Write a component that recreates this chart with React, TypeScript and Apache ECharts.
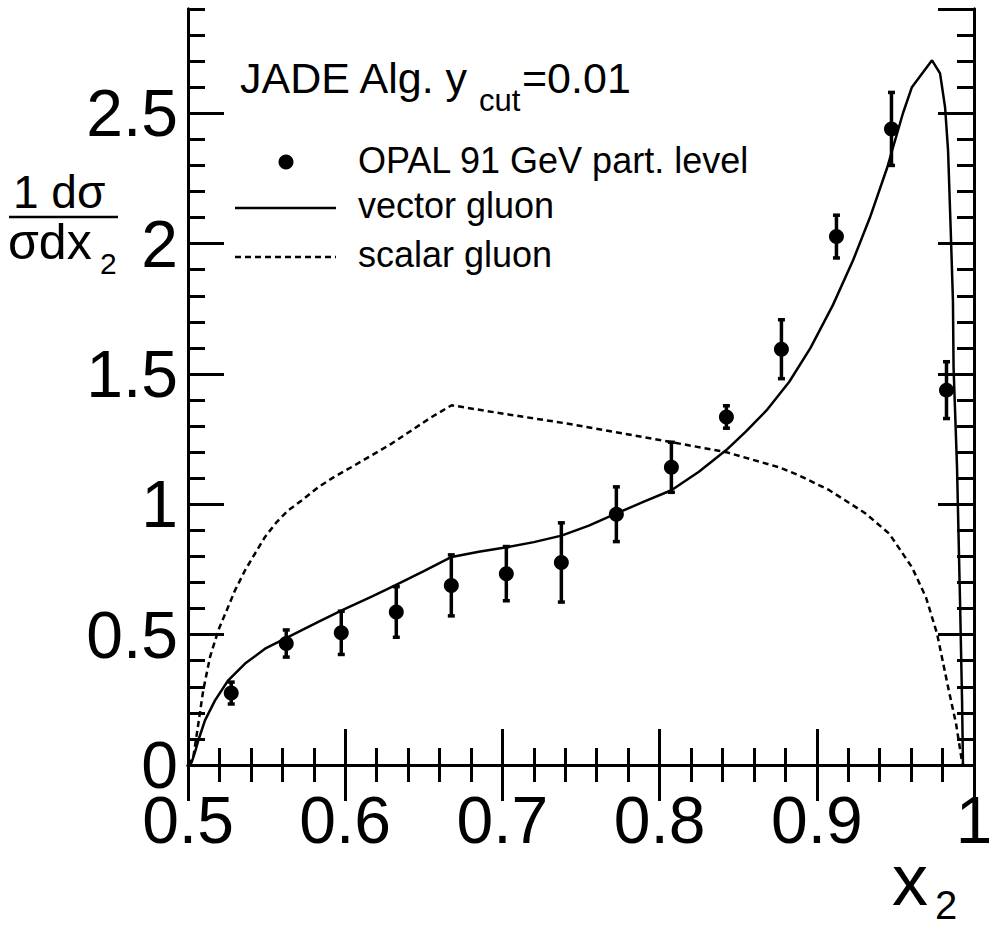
import React, { useEffect, useRef } from "react";
import * as echarts from "echarts";

// ---- data ----
const binCenters = [0.5275, 0.5625, 0.5975, 0.6325, 0.6675, 0.7025, 0.7375, 0.7725, 0.8075, 0.8425, 0.8775, 0.9125, 0.9475, 0.9825];
const opalValues = [0.276, 0.466, 0.507, 0.587, 0.689, 0.734, 0.777, 0.962, 1.142, 1.335, 1.595, 2.027, 2.44, 1.438];
const opalErrors = [0.042, 0.052, 0.083, 0.097, 0.117, 0.104, 0.152, 0.105, 0.096, 0.043, 0.113, 0.082, 0.14, 0.109];

const vectorX = [0.5, 0.5023, 0.5045, 0.5066, 0.5108, 0.5172, 0.5256, 0.5363, 0.549, 0.5617, 0.5829, 0.5978, 0.6175, 0.6317, 0.65, 0.6677, 0.685, 0.7027, 0.72, 0.7376, 0.755, 0.7726, 0.79, 0.8075, 0.825, 0.8424, 0.855, 0.868, 0.8825, 0.896, 0.9103, 0.923, 0.9338, 0.9447, 0.9548, 0.9605, 0.9676, 0.9733, 0.9784, 0.9816, 0.9835, 0.9854, 0.9866, 0.987, 0.9892, 0.9911, 0.9924, 0.993];
const vectorY = [0, 0.01, 0.05, 0.095, 0.171, 0.248, 0.325, 0.389, 0.446, 0.485, 0.549, 0.593, 0.648, 0.689, 0.744, 0.798, 0.818, 0.835, 0.855, 0.88, 0.918, 0.965, 1.01, 1.054, 1.125, 1.208, 1.28, 1.36, 1.47, 1.6, 1.765, 1.935, 2.1, 2.29, 2.5, 2.6, 2.657, 2.703, 2.653, 2.523, 2.358, 2.012, 1.782, 1.525, 1.142, 0.632, 0.248, 0];

const scalarX = [0.5, 0.5034, 0.5066, 0.5097, 0.514, 0.5193, 0.5246, 0.5299, 0.5363, 0.5426, 0.549, 0.5564, 0.5638, 0.5723, 0.5829, 0.5935, 0.6041, 0.6169, 0.6296, 0.6423, 0.655, 0.6677, 0.698, 0.741, 0.783, 0.808, 0.8424, 0.876, 0.889, 0.908, 0.931, 0.946, 0.9606, 0.9695, 0.9765, 0.984, 0.9886, 0.992, 0.993];
const scalarY = [0, 0.031, 0.159, 0.287, 0.414, 0.517, 0.593, 0.67, 0.747, 0.811, 0.875, 0.932, 0.977, 1.015, 1.066, 1.107, 1.143, 1.188, 1.233, 1.284, 1.335, 1.38, 1.35, 1.31, 1.265, 1.238, 1.2, 1.142, 1.11, 1.054, 0.965, 0.888, 0.758, 0.642, 0.504, 0.285, 0.158, 0.027, 0];

const X_MIN = 0.5;
const X_MAX = 1.0;
const Y_MIN = 0;
const Y_MAX = 2.9;

const FONT = "'Liberation Sans', Arial, Helvetica, sans-serif";

export default function App() {
  const ref = useRef<HTMLDivElement>(null);

  useEffect(() => {
    if (!ref.current) return;
    const chart = echarts.init(ref.current, null, { renderer: "svg" });

    const axisLine = { show: true, lineStyle: { color: "#000", width: 3 } };
    const majorTick = { show: true, inside: true, length: 36, lineStyle: { color: "#000", width: 3 } };
    const minorTickAxis = { show: true, inside: true, length: 17, lineStyle: { color: "#000", width: 3 } };

    const xAxisBase = {
      type: "value",
      min: X_MIN,
      max: X_MAX,
      interval: 0.1,
      splitLine: { show: false },
      axisLine,
      axisTick: majorTick,
      minorTick: { show: true, splitNumber: 5, length: 17, lineStyle: { color: "#000", width: 3 } },
      minorSplitLine: { show: false },
    };

    const yMajor = {
      type: "value",
      min: Y_MIN,
      max: Y_MAX,
      interval: 0.5,
      splitLine: { show: false },
      axisLine,
      axisTick: majorTick,
    };
    const yMinor = {
      type: "value",
      min: Y_MIN,
      max: Y_MAX,
      interval: 0.1,
      splitLine: { show: false },
      axisLine,
      axisTick: minorTickAxis,
      axisLabel: { show: false },
    };

    const errData = binCenters.map((x, i) => [x, opalValues[i] - opalErrors[i], opalValues[i] + opalErrors[i]]);

    const option: any = {
      animation: false,
      backgroundColor: "#fff",
      grid: { left: 188, top: 9, right: 15, bottom: 165, containLabel: false, outerBoundsMode: "none" },
      xAxis: [
        {
          ...xAxisBase,
          position: "bottom",
          axisLabel: {
            show: true,
            color: "#000",
            fontSize: 66,
            fontFamily: FONT,
            margin: 22,
          },
        },
        {
          ...xAxisBase,
          position: "top",
          axisLabel: { show: false },
        },
      ],
      yAxis: [
        {
          ...yMajor,
          position: "left",
          axisLabel: {
            show: true,
            color: "#000",
            fontSize: 66,
            fontFamily: FONT,
            margin: 10,
            showMaxLabel: false,
          },
        },
        { ...yMinor, position: "left" },
        { ...yMajor, position: "right", axisLabel: { show: false } },
        { ...yMinor, position: "right" },
      ],
      series: [
        {
          type: "line",
          name: "scalar gluon",
          xAxisIndex: 0,
          yAxisIndex: 0,
          data: scalarX.map((x, i) => [x, scalarY[i]]),
          showSymbol: false,
          symbol: "none",
          lineStyle: { color: "#000", width: 2.5, type: [6, 4] },
          z: 3,
        },
        {
          type: "line",
          name: "vector gluon",
          xAxisIndex: 0,
          yAxisIndex: 0,
          data: vectorX.map((x, i) => [x, vectorY[i]]),
          showSymbol: false,
          symbol: "none",
          lineStyle: { color: "#000", width: 2.5 },
          z: 3,
        },
        {
          type: "custom",
          name: "errors",
          xAxisIndex: 0,
          yAxisIndex: 0,
          data: errData,
          encode: { x: 0, y: [1, 2] },
          renderItem: (params: any, api: any) => {
            const x = api.value(0);
            const lo = api.value(1);
            const hi = api.value(2);
            const pTop = api.coord([x, hi]);
            const pBot = api.coord([x, lo]);
            const w = 3.5;
            const st = { stroke: "#000", lineWidth: 3.5 };
            return {
              type: "group",
              children: [
                { type: "line", shape: { x1: pTop[0], y1: pTop[1], x2: pBot[0], y2: pBot[1] }, style: st },
                { type: "line", shape: { x1: pTop[0] - w, y1: pTop[1], x2: pTop[0] + w, y2: pTop[1] }, style: st },
                { type: "line", shape: { x1: pBot[0] - w, y1: pBot[1], x2: pBot[0] + w, y2: pBot[1] }, style: st },
              ],
            };
          },
          z: 4,
        },
        {
          type: "scatter",
          name: "OPAL 91 GeV part. level",
          xAxisIndex: 0,
          yAxisIndex: 0,
          data: binCenters.map((x, i) => [x, opalValues[i]]),
          symbol: "circle",
          symbolSize: 15,
          itemStyle: { color: "#000", opacity: 1 },
          z: 5,
        },
      ],
      graphic: [
        // title
        { type: "text", x: 240, y: 78, style: { text: "JADE Alg. y", font: `43px ${FONT}`, fill: "#000", verticalAlign: "middle", align: "left" } },
        { type: "text", x: 479, y: 100, style: { text: "cut", font: `31px ${FONT}`, fill: "#000", verticalAlign: "middle", align: "left" } },
        { type: "text", x: 522, y: 78, style: { text: "=0.01", font: `43px ${FONT}`, fill: "#000", verticalAlign: "middle", align: "left" } },
        // legend
        { type: "circle", shape: { cx: 286, cy: 162, r: 7.5 }, style: { fill: "#000" } },
        { type: "text", x: 358, y: 160, style: { text: "OPAL 91 GeV part. level", font: `36px ${FONT}`, fill: "#000", verticalAlign: "middle", align: "left" } },
        { type: "line", shape: { x1: 235, y1: 208, x2: 336, y2: 208 }, style: { stroke: "#000", lineWidth: 2.5 } },
        { type: "text", x: 358, y: 205, style: { text: "vector gluon", font: `36px ${FONT}`, fill: "#000", verticalAlign: "middle", align: "left" } },
        { type: "line", shape: { x1: 235, y1: 257, x2: 336, y2: 257 }, style: { stroke: "#000", lineWidth: 2.5, lineDash: [6, 4] } },
        { type: "text", x: 358, y: 254, style: { text: "scalar gluon", font: `36px ${FONT}`, fill: "#000", verticalAlign: "middle", align: "left" } },
        // y axis title
        { type: "text", x: 13, y: 192, style: { text: "1 dσ", font: `46px ${FONT}`, fill: "#000", verticalAlign: "middle", align: "left" } },
        { type: "line", shape: { x1: 9, y1: 217, x2: 118, y2: 217 }, style: { stroke: "#000", lineWidth: 2.5 } },
        { type: "text", x: 8, y: 242, style: { text: "σdx", font: `50px ${FONT}`, fill: "#000", verticalAlign: "middle", align: "left" } },
        { type: "text", x: 100, y: 263, style: { text: "2", font: `30px ${FONT}`, fill: "#000", verticalAlign: "middle", align: "left" } },
        // x axis title
        { type: "text", x: 892, y: 880, style: { text: "x", font: `72px ${FONT}`, fill: "#000", verticalAlign: "middle", align: "left" } },
        { type: "text", x: 935, y: 905, style: { text: "2", font: `40px ${FONT}`, fill: "#000", verticalAlign: "middle", align: "left" } },
      ],
    };

    chart.setOption(option);
    return () => chart.dispose();
  }, []);

  return (
    <div
      ref={ref}
      style={{ position: "fixed", left: 0, top: 0, width: 989, height: 930, background: "#fff" }}
    />
  );
}
